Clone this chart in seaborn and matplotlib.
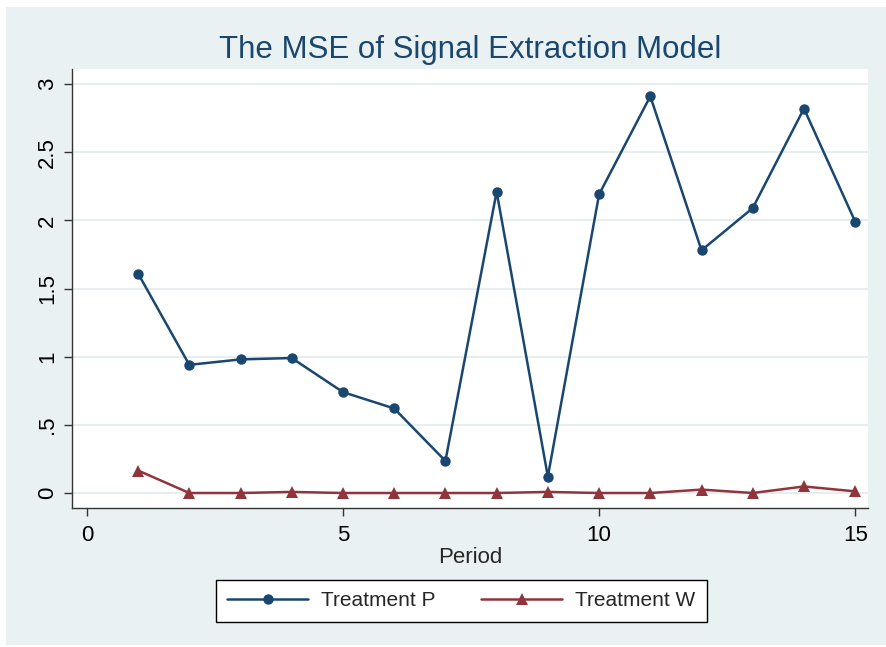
import pandas as pd
import seaborn as sns
import matplotlib.pyplot as plt
from matplotlib.patches import Rectangle

# Data
periods = list(range(1, 16))
treatment_p = [1.61, 0.94, 0.98, 0.99, 0.74, 0.62, 0.235, 2.21, 0.12, 2.19, 2.91, 1.78, 2.09, 2.82, 1.99]
treatment_w = [0.165, 0.0, 0.0, 0.008, 0.0, 0.0, 0.0, 0.0, 0.008, 0.0, 0.0, 0.025, 0.0, 0.048, 0.012]
series_names = ["Treatment P", "Treatment W"]
y_ticks = [0, 0.5, 1, 1.5, 2, 2.5, 3]
y_ticklabels = ["0", ".5", "1", "1.5", "2", "2.5", "3"]
x_ticks = [0, 5, 10, 15]

df = pd.concat([
    pd.DataFrame({"Period": periods, "MSE": treatment_p, "series": series_names[0]}),
    pd.DataFrame({"Period": periods, "MSE": treatment_w, "series": series_names[1]}),
])

sns.set_style("white")
plt.rcParams["font.family"] = ["Liberation Sans", "DejaVu Sans"]

navy = "#1a476f"
maroon = "#90353b"
bg = "#eaf1f3"

fig = plt.figure(figsize=(8.86, 6.47), dpi=100, facecolor="white")
# Stata-like light outer background
fig.patches.append(Rectangle((6 / 886, 2 / 647), 880 / 886, 638 / 647,
                             transform=fig.transFigure, facecolor=bg,
                             edgecolor="none", zorder=-10))
ax = fig.add_axes([72 / 886, 1 - 508 / 647, 796 / 886, 439 / 647])
ax.set_facecolor("white")

sns.lineplot(data=df, x="Period", y="MSE", hue="series", style="series",
             palette=[navy, maroon], markers=["o", "^"], dashes=False,
             markersize=7.5, linewidth=1.8, markeredgewidth=0, ax=ax)
# triangles are drawn a bit larger in the original
ax.lines[1].set_markersize(9)

ax.set_xlim(-0.29, 15.25)
ax.set_ylim(-0.11, 3.11)
ax.set_yticks(y_ticks)
ax.set_yticklabels(y_ticklabels, rotation=90, va="center")
ax.set_xticks(x_ticks)
ax.tick_params(axis="both", direction="out", length=6, width=1, color="#333333",
               labelsize=16, labelcolor="black", left=True, bottom=True)
ax.tick_params(axis="x", pad=6)
ax.tick_params(axis="y", pad=4)
ax.yaxis.grid(True, color="#e6eef0", linewidth=1.5)
ax.set_axisbelow(True)

for side in ["top", "right"]:
    ax.spines[side].set_visible(False)
for side in ["left", "bottom"]:
    ax.spines[side].set_color("#333333")
    ax.spines[side].set_linewidth(1.0)

ax.set_xlabel("Period", fontsize=16, labelpad=1)
ax.set_ylabel("")
ax.set_title("The MSE of Signal Extraction Model", fontsize=22.5, color=navy, pad=8)

handles, labels = ax.get_legend_handles_labels()
ax.get_legend().remove()
handles[1].set_markersize(9)
leg = fig.legend(handles, labels, loc="center", bbox_to_anchor=(461 / 886, 1 - 601 / 647),
                 ncol=2, fontsize=15, frameon=True, fancybox=False,
                 edgecolor="black", framealpha=1, handlelength=3.9,
                 handletextpad=0.6, columnspacing=2.2, borderpad=0.55)
leg.get_frame().set_linewidth(1.0)

plt.savefig("out.png", dpi=100, facecolor=fig.get_facecolor())
plt.close()
